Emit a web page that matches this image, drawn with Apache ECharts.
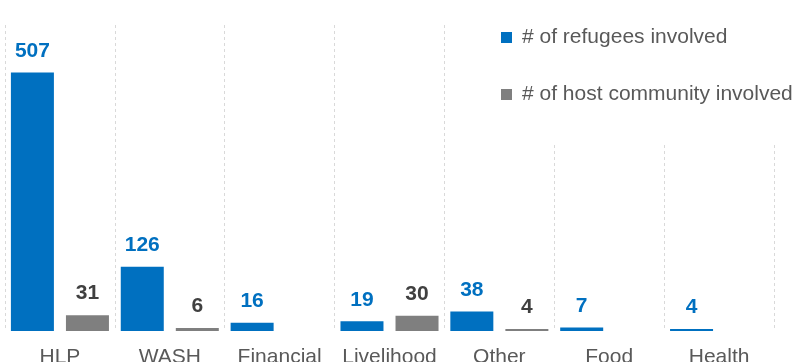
<!DOCTYPE html>
<html>
<head>
<meta charset="utf-8">
<script src="https://cdn.jsdelivr.net/npm/echarts@6/dist/echarts.min.js"></script>
<style>
  html, body { margin: 0; padding: 0; background: #fff; }
  #chart { width: 798px; height: 362px; }
</style>
</head>
<body>
<div id="chart"></div>
<script>
// Sectors of the cases
const categories = ['HLP', 'WASH', 'Financial', 'Livelihood', 'Other', 'Food', 'Health'];
// Number of people involved per sector (null = none reported)
const refugees = [507, 126, 16, 19, 38, 7, 4];
const hostCommunity = [31, 6, null, 30, 4, null, null];
const seriesNames = ['# of refugees involved', '# of host community involved'];

const BLUE = '#0070C0';
const GREY = '#7F7F7F';
const FONT = "'Liberation Sans', Arial, sans-serif";

const chart = echarts.init(document.getElementById('chart'), null, { renderer: 'canvas' });

chart.setOption({
  animation: false,
  backgroundColor: '#ffffff',
  textStyle: { fontFamily: FONT },
  grid: {
    left: 5, right: 24, top: 25, bottom: 31,
    containLabel: false,
    outerBoundsMode: 'none'
  },
  legend: {
    orient: 'vertical',
    left: 481,
    top: 0,
    padding: [27, 2, 38, 20],
    backgroundColor: '#ffffff',
    itemWidth: 11,
    itemHeight: 11,
    itemGap: 36,
    icon: 'rect',
    textStyle: { fontFamily: FONT, fontSize: 21, color: '#595959', padding: [0, 0, 0, 5] },
    data: seriesNames
  },
  xAxis: {
    type: 'category',
    data: categories,
    axisLine: { show: false },
    axisTick: { show: false },
    axisLabel: { interval: 0, fontFamily: FONT, fontSize: 21, color: '#595959', margin: 16 },
    splitLine: { show: true, interval: 0, lineStyle: { color: '#d9d9d9', type: [3, 3], width: 1 } }
  },
  yAxis: {
    type: 'value',
    min: 0,
    max: 600,
    show: false,
    splitLine: { show: false }
  },
  series: [
    {
      name: seriesNames[0],
      type: 'bar',
      data: refugees,
      barWidth: 43,
      barGap: '28%',
      itemStyle: { color: BLUE },
      label: {
        show: true, position: 'top', distance: 11,
        fontFamily: FONT, fontSize: 21, fontWeight: 'bold', color: BLUE
      }
    },
    {
      name: seriesNames[1],
      type: 'bar',
      data: hostCommunity,
      barWidth: 43,
      barGap: '28%',
      itemStyle: { color: GREY },
      label: {
        show: true, position: 'top', distance: 11,
        fontFamily: FONT, fontSize: 21, fontWeight: 'bold', color: '#404040'
      }
    }
  ]
});
</script>
</body>
</html>
